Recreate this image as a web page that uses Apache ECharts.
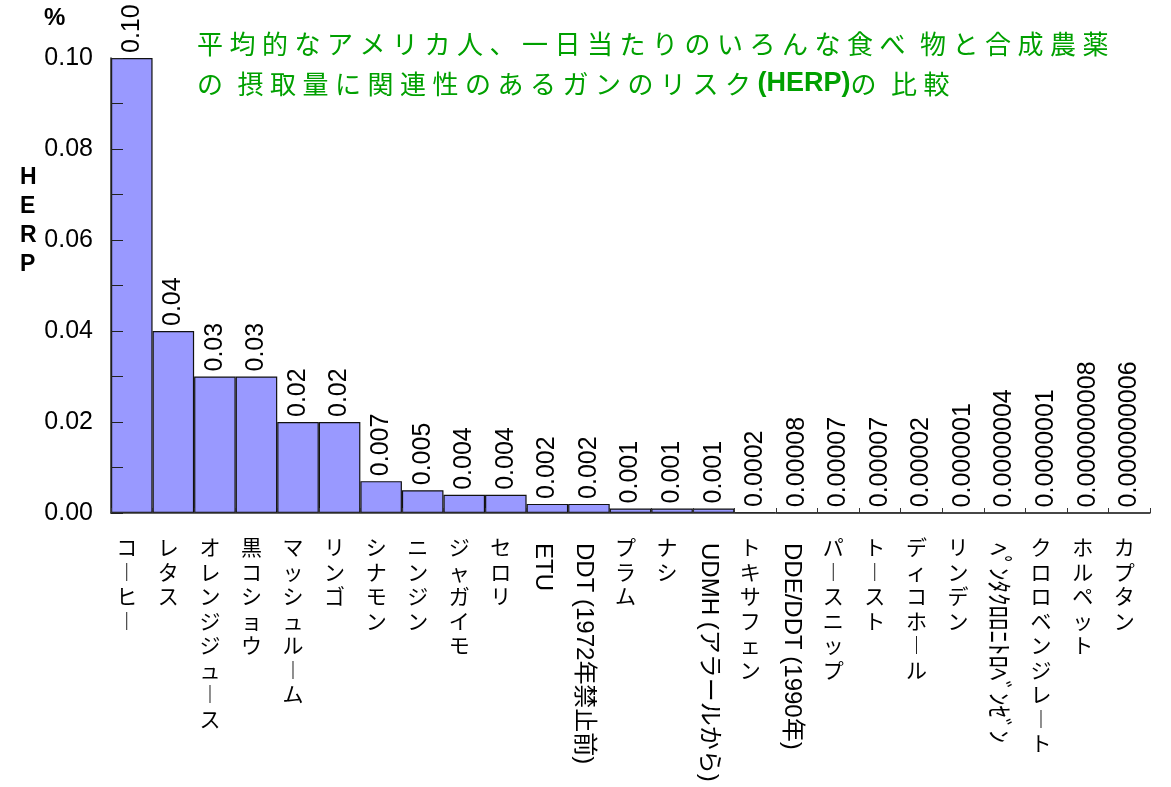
<!DOCTYPE html>
<html>
<head>
<meta charset="utf-8">
<script src="https://cdn.jsdelivr.net/npm/echarts@6/dist/echarts.min.js"></script>
<style>
  html, body { margin: 0; padding: 0; background: #fff; }
  #chart { width: 1171px; height: 787px; }
</style>
</head>
<body>
<div id="chart"></div>
<script>
// Foods and chemicals, ordered by HERP (%)
const categories = [
  'コーヒー', 'レタス', 'オレンジジュース', '黒コショウ', 'マッシュルーム', 'リンゴ',
  'シナモン', 'ニンジン', 'ジャガイモ', 'セロリ', 'ETU', 'DDT (1972年禁止前)',
  'プラム', 'ナシ', 'UDMH (アラールから)', 'トキサフェン', 'DDE/DDT (1990年)',
  'パースニップ', 'トースト', 'ディコホール', 'リンデン', 'ﾍﾟﾝﾀｸﾛﾛﾆﾄﾛﾍﾞﾝｾﾞﾝ',
  'クロロベンジレート', 'ホルペット', 'カプタン'
];
const herpValues = [
  0.10, 0.04, 0.03, 0.03, 0.02, 0.02,
  0.007, 0.005, 0.004, 0.004, 0.002, 0.002,
  0.001, 0.001, 0.001, 0.0002, 0.00008,
  0.00007, 0.00007, 0.00002, 0.000001, 0.0000004,
  0.0000001, 0.000000008, 0.000000006
];
const titleLines = [
  '平均的なアメリカ人、一日当たりのいろんな食べ 物と合成農薬',
  'の 摂取量に関連性のあるガンのリスク(HERP)の 比較'
];
const yUnit = '%';
const yName = 'HERP';

const SANS = 'Arial, "Liberation Sans", "Noto Sans CJK JP", sans-serif';
const JP = '"Noto Sans CJK JP", sans-serif';
const GREEN = '#00a000';
const AXIS = '#333';

// Names with Latin letters or half-width kana run sideways; the others are set in a vertical column
const isSideways = s => /[A-Za-z\uFF61-\uFF9F]/.test(s);
const toColumn = s => Array.from(s).map(c => (c === 'ー' ? '︱' : c)).join('\n');

// Value label text: one significant digit, at least two decimals
function fmtValue(v) {
  let s = v.toLocaleString('en-US', { maximumSignificantDigits: 1, useGrouping: false });
  const dot = s.indexOf('.');
  const dec = dot < 0 ? 0 : s.length - dot - 1;
  if (dec < 2) s = v.toFixed(2);
  return s;
}

// Title as rich text: full-width characters on a fixed pitch, ASCII runs in bold
function richLine(line) {
  let out = '';
  let ascii = '';
  const flush = () => { if (ascii) { out += '{a|' + ascii + '}'; ascii = ''; } };
  for (const ch of Array.from(line)) {
    if (ch === ' ') { flush(); out += '{s| }'; }
    else if (/[\x21-\x7e]/.test(ch)) { ascii += ch; }
    else { flush(); out += '{w|' + ch + '}'; }
  }
  flush();
  return out;
}

const chart = echarts.init(document.getElementById('chart'), null, { renderer: 'canvas' });

chart.setOption({
  animation: false,
  backgroundColor: '#fff',
  title: {
    text: titleLines.map(richLine).join('\n'),
    left: 197,
    top: 24,
    padding: 0,
    textStyle: {
      fontWeight: 'normal',
      rich: {
        w: { fontFamily: JP, fontWeight: 'normal', fontSize: 26, width: 32.5, color: GREEN, lineHeight: 40 },
        a: { fontFamily: SANS, fontWeight: 'bold', fontSize: 27, color: GREEN, lineHeight: 40 },
        s: { fontFamily: JP, fontWeight: 'normal', fontSize: 26, width: 8, lineHeight: 40 }
      }
    }
  },
  graphic: [
    {
      type: 'text', left: 44, top: 6,
      style: { text: yUnit, fontFamily: SANS, fontWeight: 'bold', fontSize: 24, fill: '#000' }
    },
    {
      type: 'text', left: 20, top: 163,
      style: {
        text: Array.from(yName).join('\n'), lineHeight: 29,
        fontFamily: SANS, fontWeight: 'bold', fontSize: 23, fill: '#000'
      }
    }
  ],
  grid: { left: 111, right: 21, top: 58, bottom: 274, containLabel: false },
  xAxis: [
    {
      type: 'category',
      data: categories,
      z: 5,
      axisLine: { lineStyle: { color: AXIS, width: 1.5 } },
      axisTick: { show: true, inside: true, length: 5, lineStyle: { color: AXIS } },
      axisLabel: {
        interval: 0,
        margin: 22,
        fontFamily: JP,
        fontSize: 21,
        lineHeight: 24.5,
        color: '#000',
        padding: [0, 10, 0, 0],
        formatter: v => (isSideways(v) ? '' : toColumn(v))
      }
    },
    {
      type: 'category',
      data: categories,
      position: 'bottom',
      axisLine: { show: false },
      axisTick: { show: false },
      axisLabel: {
        interval: 0,
        rotate: -90,
        margin: 30,
        fontFamily: SANS,
        fontSize: 24,
        color: '#000',
        padding: [10, 0, 0, 0],
        formatter: v => {
          if (!isSideways(v)) return '';
          return /[\uFF61-\uFF9F]/.test(v) ? '{k|' + v + '}' : v;
        },
        rich: { k: { fontFamily: JP, fontSize: 25, color: '#000' } }
      }
    }
  ],
  yAxis: {
    type: 'value',
    min: 0,
    max: 0.1,
    interval: 0.02,
    z: 5,
    axisLine: { show: true, lineStyle: { color: '#222', width: 1.5 } },
    axisTick: { show: true, inside: true, length: 12, lineStyle: { color: '#222' } },
    minorTick: { show: true, splitNumber: 2, length: 12, lineStyle: { color: '#222' } },
    splitLine: { show: false },
    axisLabel: {
      margin: 18,
      fontFamily: SANS,
      fontSize: 25,
      color: '#000',
      formatter: v => v.toFixed(2)
    }
  },
  series: [{
    type: 'bar',
    xAxisIndex: 0,
    data: herpValues,
    barCategoryGap: '0%',
    itemStyle: { color: '#9999ff', borderColor: '#111', borderWidth: 1.2 },
    label: {
      show: true,
      position: 'top',
      rotate: 90,
      align: 'left',
      verticalAlign: 'middle',
      distance: 5,
      fontFamily: SANS,
      fontSize: 25,
      color: '#000',
      formatter: p => fmtValue(p.value)
    }
  }]
});
</script>
</body>
</html>
